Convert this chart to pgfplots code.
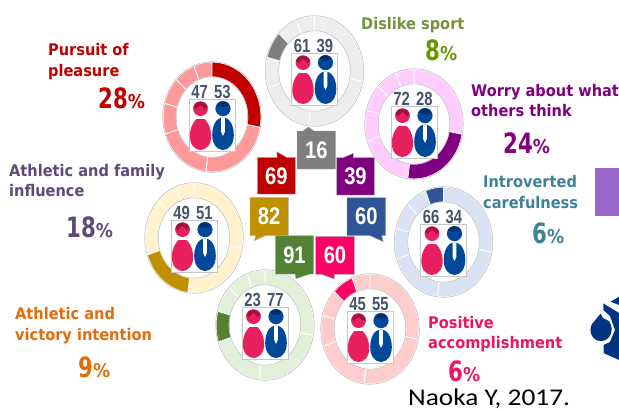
\documentclass[border=0pt]{standalone}
\usepackage{fontspec}
\setmainfont{Liberation Sans}
\usepackage{pgfplots}
\usepackage{pgfplotstable}
\pgfplotsset{compat=1.18}
\newfontfamily\labf{DejaVu Sans}
\newfontfamily\numf{Liberation Sans}
\newfontfamily\capf{Carlito}
\definecolor{cgray}{HTML}{7F7F7F}\definecolor{lgray}{HTML}{EDEDED}
\definecolor{cred}{HTML}{C00000}\definecolor{lred}{HTML}{FF9999}
\definecolor{cpur}{HTML}{800080}\definecolor{lpur}{HTML}{FFCCFF}
\definecolor{coli}{HTML}{BF9000}\definecolor{loli}{HTML}{FFF2CC}
\definecolor{cblu}{HTML}{2F5597}\definecolor{lblu}{HTML}{DAE3F3}
\definecolor{cgre}{HTML}{548235}\definecolor{lgre}{HTML}{E2EFD9}
\definecolor{cpin}{HTML}{FF0066}\definecolor{lpin}{HTML}{FFCCCC}
\definecolor{wom}{HTML}{E8205F}\definecolor{womd}{HTML}{A5103F}
\definecolor{man}{HTML}{00489A}\definecolor{mand}{HTML}{00306E}
\definecolor{numc}{HTML}{44546A}
\definecolor{c7e923c}{HTML}{76923C}\definecolor{c8}{HTML}{669900}
\definecolor{cteal}{HTML}{3F8199}\definecolor{cplum}{HTML}{5F497A}
\definecolor{corg}{HTML}{E46C0A}\definecolor{cmag}{HTML}{EC1463}
\definecolor{cside}{HTML}{9966CC}\definecolor{logo}{HTML}{003380}
% pie shares of the seven types (percent positions round each ring)
\pgfplotstableread[row sep=\\]{p r\\0 1\\2 1\\4 1\\6 1\\8 1\\10 1\\12 1\\14 1\\16 1\\18 1\\20 1\\22 1\\24 1\\26 1\\28 1\\28 .73\\26 .73\\24 .73\\22 .73\\20 .73\\18 .73\\16 .73\\14 .73\\12 .73\\10 .73\\8 .73\\6 .73\\4 .73\\2 .73\\0 .73\\0 1\\}\segA
\pgfplotstableread[row sep=\\]{p r\\28 1\\30 1\\32 1\\34 1\\36 1\\38 1\\40 1\\42 1\\44 1\\46 1\\48 1\\50 1\\52 1\\52 .73\\50 .73\\48 .73\\46 .73\\44 .73\\42 .73\\40 .73\\38 .73\\36 .73\\34 .73\\32 .73\\30 .73\\28 .73\\28 1\\}\segB
\pgfplotstableread[row sep=\\]{p r\\52 1\\54 1\\56 1\\58 1\\60 1\\62 1\\64 1\\66 1\\68 1\\70 1\\70 .73\\68 .73\\66 .73\\64 .73\\62 .73\\60 .73\\58 .73\\56 .73\\54 .73\\52 .73\\52 1\\}\segC
\pgfplotstableread[row sep=\\]{p r\\70 1\\72 1\\74 1\\76 1\\79 1\\79 .73\\76 .73\\74 .73\\72 .73\\70 .73\\70 1\\}\segD
\pgfplotstableread[row sep=\\]{p r\\79 1\\81 1\\83 1\\85 1\\87 1\\87 .73\\85 .73\\83 .73\\81 .73\\79 .73\\79 1\\}\segE
\pgfplotstableread[row sep=\\]{p r\\87 1\\89 1\\91 1\\94 1\\94 .73\\91 .73\\89 .73\\87 .73\\87 1\\}\segF
\pgfplotstableread[row sep=\\]{p r\\94 1\\96 1\\98 1\\100 1\\100 .73\\98 .73\\96 .73\\94 .73\\94 1\\}\segG
\newcommand\seg[4]{\addplot[fill=#4,draw=white,line width=.8pt,line join=bevel] table[x expr=#1+49*\thisrow{r}*sin(3.6*\thisrow{p}),y expr=#2-55*\thisrow{r}*cos(3.6*\thisrow{p})] {#3};}
\newcommand\ring[6]{% cx cy light seg dark-colour: then figures
  \seg{#1}{#2}{\segA}{#3}\seg{#1}{#2}{\segB}{#3}\seg{#1}{#2}{\segC}{#3}\seg{#1}{#2}{\segD}{#3}\seg{#1}{#2}{\segE}{#3}\seg{#1}{#2}{\segF}{#3}\seg{#1}{#2}{\segG}{#3}
  \seg{#1}{#2}{#4}{#5}
  \begin{scope}[shift={(axis cs:#1,#2)},x=1pt,y=-1pt]
    \draw[black!28,line width=.5pt] (0,0) ellipse [x radius=49.3pt,y radius=55.3pt];
    \draw[black!28,line width=.5pt] (0,0) ellipse [x radius=35.8pt,y radius=40.2pt];
    \draw[black!22,fill=white,line width=.5pt] (-23,-17.5) rectangle (23,34);
    \fill[wom] (-11.5,-8.4) circle[radius=7.4pt];
    \fill[womd] (-18.5,-10) .. controls (-16.5,-17) and (-6.5,-17) .. (-4.5,-10) -- (-7,-8) -- (-11.5,-12) -- (-16,-8) -- cycle;
    \fill[wom] (-11.5,.5) .. controls (-17,.5) and (-22.2,10) .. (-22.2,19) .. controls (-22.2,28) and (-17,33) .. (-11.5,33) .. controls (-6,33) and (-.8,28) .. (-.8,19) .. controls (-.8,10) and (-6,.5) .. (-11.5,.5) -- cycle;
    \fill[white] (-15,0) rectangle (-8,1.6);
    \fill[man] (11,-8.4) circle[radius=7.6pt];
    \fill[mand] (4.6,-12) .. controls (6.5,-17) and (15.5,-17) .. (17.4,-12) .. controls (13,-9.5) and (9,-9.5) .. (4.6,-12) -- cycle;
    \fill[man] (11,.5) .. controls (4,.5) and (.2,9) .. (.2,18) .. controls (.2,27) and (5,33) .. (11,33) .. controls (17,33) and (21.8,27) .. (21.8,18) .. controls (21.8,9) and (18,.5) .. (11,.5) -- cycle;
    \fill[white] (9,.5) -- (13,.5) -- (12.8,15) -- (11,19) -- (9.2,15) -- cycle;
  \end{scope}
  \pctnums{#1}{#2}#6}
\newcommand\pctnums[4]{\begin{scope}[shift={(axis cs:#1,#2)},x=1pt,y=-1pt]
    \node[anchor=base,inner sep=0pt,text=numc] at (-12.3,-18.4) {\fontsize{19}{19}\numf\bfseries\scalebox{.78}[1]{#3}};
    \node[anchor=base,inner sep=0pt,text=numc] at (10.3,-18.4) {\fontsize{19}{19}\numf\bfseries\scalebox{.78}[1]{#4}};
  \end{scope}}
\newcommand\callout[5]{\fill[#1,draw=black!30,line width=.4pt] #2;
  \node[text=white,inner sep=0pt] at (#3,#4) {\fontsize{24}{24}\numf\bfseries\scalebox{.84}[1]{#5}};}
\newcommand\lab[5]{\node[anchor=base west,inner sep=0pt,text=#1] at (#2,#3) {\fontsize{#5}{#5}\labf\bfseries\scalebox{.91}[1]{#4}};}
\newcommand\pct[5]{\node[anchor=base west,inner sep=0pt,text=#1] at (#2,#3) {\fontsize{28}{28}\labf\bfseries\scalebox{.76}[1]{#4}\fontsize{19}{19}\selectfont\scalebox{.9}[1]{\%}};}
\begin{document}
\begin{tikzpicture}
\path[use as bounding box] (0,0) rectangle (619pt,410pt);
\begin{axis}[at={(0,0)},anchor=south west,scale only axis,width=619pt,height=410pt,
  xmin=0,xmax=619,ymin=0,ymax=410,y dir=reverse,hide axis]
\ring{314.5}{71}{lgray}{\segE}{cgray}{{61}{39}}
\ring{212}{117}{lred}{\segA}{cred}{{47}{53}}
\ring{414}{124}{lpur}{\segB}{cpur}{{72}{28}}
\ring{194}{238}{loli}{\segC}{coli}{{49}{51}}
\ring{443.5}{242}{lblu}{\segG}{cblu}{{66}{34}}
\ring{265}{325}{lgre}{\segD}{cgre}{{23}{77}}
\ring{370}{329}{lpin}{\segF}{cpin}{{45}{55}}
\begin{scope}[shift={(axis cs:0,0)},x=1pt,y=-1pt]
\callout{cgray}{(297,131)--(303,131)--(308.3,127)--(314,131)--(335.7,131)--(335.7,169)--(297,169)--cycle}{316.3}{150}{16}
\callout{cred}{(257.3,157.3)--(277.3,157.3)--(276.7,151.7)--(286.7,157.3)--(295.3,157.3)--(295.3,194)--(257.3,194)--cycle}{276.3}{176}{69}
\callout{cpur}{(336.7,157.6)--(343.3,157.6)--(353.3,153.3)--(353.3,157.6)--(374.3,157.6)--(374.3,195)--(336.7,195)--cycle}{355.5}{176.5}{39}
\callout{coli}{(250,197.3)--(288.3,197.3)--(288.3,235.7)--(265,235.7)--(254.3,240.7)--(255.7,235.7)--(250,235.7)--cycle}{269.2}{216.5}{82}
\callout{cblu}{(347,197.7)--(385.7,197.7)--(385.7,235.7)--(381.7,235.7)--(383.3,241.7)--(370,235.7)--(347,235.7)--cycle}{366.3}{216.7}{60}
\callout{cgre}{(275.3,235.7)--(313.7,235.7)--(313.7,274)--(310,274)--(296,278.7)--(295,274)--(275.3,274)--cycle}{294.5}{255}{91}
\callout{cpin}{(315.7,236.3)--(354.3,236.3)--(354.3,274.3)--(334.3,274.3)--(334.3,279)--(321.7,274.3)--(315.7,274.3)--cycle}{335}{255.3}{60}
\lab{c7e923c}{361}{29.3}{Dislike sport}{16}
\lab{cred}{48}{55}{Pursuit of}{16}
\lab{cred}{48}{76}{pleasure}{16}
\lab{cpur}{471}{96}{Worry about what}{16}
\lab{cpur}{471}{116}{others think}{16}
\lab{cteal}{483}{187}{Introverted}{16}
\lab{cteal}{483}{208}{carefulness}{16}
\lab{cplum}{9}{176}{Athletic and family}{16}
\lab{cplum}{9}{196}{influence}{16}
\lab{corg}{15}{319}{Athletic and}{16}
\lab{corg}{15}{340}{victory intention}{16}
\lab{cmag}{428}{328}{Positive}{16}
\lab{cmag}{428}{348}{accomplishment}{16}
\pct{c8}{425}{60}{8}{}
\pct{cred}{98}{108}{28}{}
\pct{cpur}{503}{153}{24}{}
\pct{cteal}{532}{243}{6}{}
\pct{cplum}{66}{237}{18}{}
\pct{corg}{78}{377}{9}{}
\pct{cmag}{448}{381}{6}{}
\node[anchor=base west,inner sep=0pt] at (408,405.5) {\fontsize{24}{24}\capf\scalebox{1.14}[1]{Naoka Y, 2017.}};
\fill[cside] (594.5,168) rectangle (619,216);
\fill[logo] (603.3,303.3) -- (619,313) -- (619,360) -- (603.5,353) -- (603.5,345) -- (610,342) -- (615,330) -- (610,316) -- (603.3,310) -- cycle;
\fill[logo] (610.7,301.7) -- (619,296.7) -- (619,305) -- cycle;
\fill[logo] (600.7,313.5) -- (603,318) -- (609,321) .. controls (615,330) and (610,341) .. (601,341) .. controls (592,341) and (588,331) .. (592,324) -- cycle;
\end{scope}
\end{axis}
\end{tikzpicture}
\end{document}
